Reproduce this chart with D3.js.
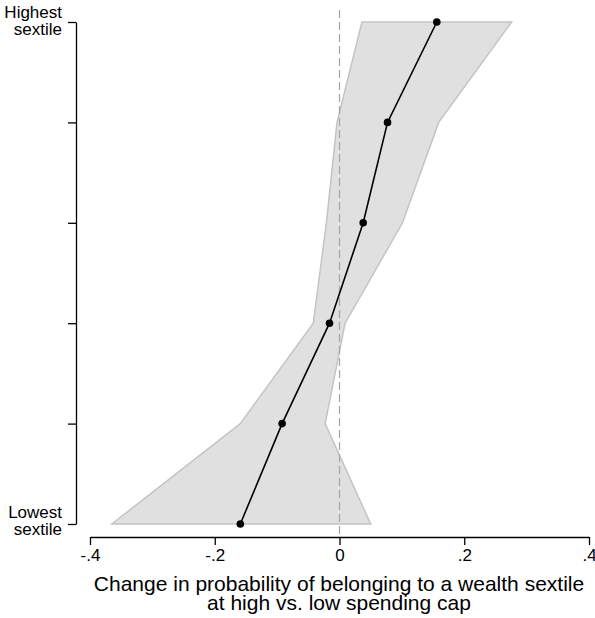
<!DOCTYPE html>
<html><head><meta charset="utf-8">
<script src="https://cdn.jsdelivr.net/npm/d3@7"></script>
<style>body{margin:0;background:#fff;} text{font-family:"Liberation Sans",Arial,sans-serif;fill:#000;}</style>
</head><body><svg id="c" width="595" height="618"></svg>
<script>
const sextiles = [6, 5, 4, 3, 2, 1];
const estimate = [0.156, 0.077, 0.038, -0.016, -0.092, -0.159];
const lower = [0.036, -0.004, -0.021, -0.042, -0.159, -0.365];
const upper = [0.276, 0.159, 0.101, 0.009, -0.023, 0.050];
const xTicks = [-0.4, -0.2, 0, 0.2, 0.4];
const xTickLabels = ["-.4", "-.2", "0", ".2", ".4"];
const yLabelTop = ["Highest", "sextile"];
const yLabelBottom = ["Lowest", "sextile"];
const xTitle = ["Change in probability of belonging to a wealth sextile", "at high vs. low spending cap"];

const svg = d3.select("#c");
const x = d3.scaleLinear().domain([-0.4, 0.4]).range([90, 589]);
const y = d3.scaleLinear().domain([1, 6]).range([524, 22]);
const data = sextiles.map((s, i) => ({s, e: estimate[i], lo: lower[i], hi: upper[i]}));

// CI band
svg.append("path").datum(data)
  .attr("d", d3.area().y(d => y(d.s)).x0(d => x(d.lo)).x1(d => x(d.hi)))
  .attr("fill", "#e0e0e0").attr("stroke", "#c4c4c4").attr("stroke-width", 1.5);

// zero reference line
svg.append("line").attr("x1", x(0)).attr("x2", x(0)).attr("y1", 10).attr("y2", 537)
  .attr("stroke", "#a8a8a8").attr("stroke-width", 1.3).attr("stroke-dasharray", "8,4");

// estimates line
svg.append("path").datum(data)
  .attr("d", d3.line().x(d => x(d.e)).y(d => y(d.s)))
  .attr("fill", "none").attr("stroke", "#000").attr("stroke-width", 1.6);
svg.selectAll("circle.pt").data(data).join("circle")
  .attr("cx", d => x(d.e)).attr("cy", d => y(d.s)).attr("r", 3.8).attr("fill", "#000");

// x axis
const xa = svg.append("g").attr("transform", "translate(0,537)")
  .call(d3.axisBottom(x).tickValues(xTicks).tickFormat((d, i) => xTickLabels[i]).tickSize(8).tickSizeOuter(0).tickPadding(4));
xa.select(".domain").attr("stroke", "#000").attr("stroke-width", 1.3);
xa.selectAll(".tick line").attr("stroke", "#000").attr("stroke-width", 1.3);
xa.selectAll(".tick text").attr("font-size", 17).attr("font-family", "Liberation Sans, Arial, sans-serif");

// y axis
const ya = svg.append("g").attr("transform", "translate(76,0)")
  .call(d3.axisLeft(y).tickValues(sextiles).tickFormat("").tickSize(8).tickSizeOuter(0));
ya.select(".domain").attr("stroke", "#000").attr("stroke-width", 1.3);
ya.selectAll(".tick line").attr("stroke", "#000").attr("stroke-width", 1.3);

function yLab(lines, base) {
  const t = svg.append("text").attr("text-anchor", "end").attr("font-size", 17);
  lines.forEach((l, i) => t.append("tspan").attr("x", 62).attr("y", base + i * 17).text(l));
}
yLab(yLabelTop, y(6) - 4);
yLab(yLabelBottom, y(1) - 6);

const tt = svg.append("text").attr("text-anchor", "middle").attr("font-size", 21);
xTitle.forEach((l, i) => tt.append("tspan").attr("x", 339).attr("y", 591 + i * 19).text(l));
</script></body></html>
